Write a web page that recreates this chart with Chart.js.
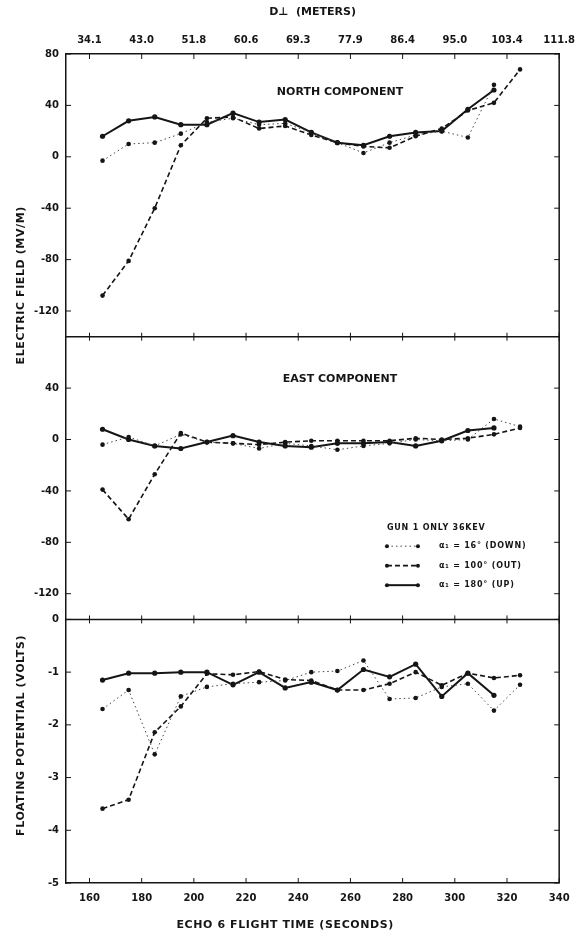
<!DOCTYPE html>
<html>
<head>
<meta charset="utf-8">
<title>Echo 6 – elektriskt fält och flytande potential</title>
<script src="https://cdn.jsdelivr.net/npm/chart.js@4.4.0/dist/chart.umd.min.js"></script>
<style>
    html, body { margin: 0; padding: 0; background: #fff; }
    #wrap { position: relative; width: 583px; height: 936px; }
</style>
</head>
<body>
<div id="wrap"><canvas id="echoChart"></canvas></div>
<script>
"use strict";

// Flygtid (sekunder) för varje mätpunkt
const flightTime = [165, 175, 185, 195, 205, 215, 225, 235, 245, 255, 265, 275, 285, 295, 305, 315, 325];

// Tickar på tidsaxeln + motsvarande avstånd D⊥ på övre axeln
const timeTicks = [160, 180, 200, 220, 240, 260, 280, 300, 320, 340];
const distanceLabels = ["34.1", "43.0", "51.8", "60.6", "69.3", "77.9", "86.4", "95.0", "103.4", "111.8"];

// Nordlig komponent (mV/m)
const northDown = [-3, 10, 11, 18, 27, 30, 25, 26, 19, 11, 3, 11, 17, 20, 15, 56, null];
const northOut = [-108, -81, -40, 9, 30, 31, 22, 24, 17, 11, 8, 7, 16, 22, 36, 42, 68];
const northUp = [16, 28, 31, 25, 25, 34, 27, 29, 19, 11, 9, 16, 19, 20, 37, 52, null];

// Östlig komponent (mV/m)
const eastDown = [-4, 2, -5, 4, -2, -3, -7, -3, -5, -8, -5, -3, 0, -1, 0, 16, 10];
const eastOut = [-39, -62, -27, 5, -2, -3, -4, -2, -1, -1, -1, -1, 1, 0, 1, 4, 9];
const eastUp = [8, 0, -5, -7, -2, 3, -2, -5, -6, -3, -3, -2, -5, -1, 7, 9, null];

// Flytande potential (volt)
const floatDown = [-1.70, -1.34, -2.56, -1.46, -1.28, -1.22, -1.19, -1.16, -1.00, -0.98, -0.78, -1.51, -1.49, -1.28, -1.22, -1.73, -1.24];
const floatOut = [-3.59, -3.42, -2.14, -1.65, -1.03, -1.05, -0.99, -1.14, -1.16, -1.34, -1.34, -1.22, -1.00, -1.25, -1.02, -1.11, -1.06];
const floatUp = [-1.15, -1.02, -1.02, -1.00, -1.00, -1.24, -1.00, -1.30, -1.19, -1.34, -0.95, -1.09, -0.85, -1.46, -1.02, -1.44, null];

// Tickar för de tre panelerna
const northTicks = [-120, -80, -40, 0, 40, 80];
const eastTicks = [-120, -80, -40, 0, 40];
const floatTicks = [-5, -4, -3, -2, -1, 0];

const legendTitle = "GUN 1 ONLY 36KEV";
const legendLabels = ["α₁ = 16° (DOWN)", "α₁ = 100° (OUT)", "α₁ = 180° (UP)"];

const ink = '#151515';
const font = "'DejaVu Sans', sans-serif";
const tickFont = { family: font, size: 10, weight: 'bold' };
const titleFont = { family: font, size: 11, weight: 'bold' };

// Linjestilar: ner = prickad, ut = streckad, upp = heldragen
const lineStyles = [
    { borderColor: '#444', borderWidth: 1, borderDash: [1.5, 3], pointRadius: 2.3 },
    { borderColor: ink, borderWidth: 1.6, borderDash: [5, 3], pointRadius: 2.3 },
    { borderColor: ink, borderWidth: 2, borderDash: [], pointRadius: 2.6 }
];

function series(values, axisId, styleIndex) {
    const style = lineStyles[styleIndex];
    return {
        data: flightTime.map((t, i) => ({ x: t, y: values[i] })),
        yAxisID: axisId,
        borderColor: style.borderColor,
        borderWidth: style.borderWidth,
        borderDash: style.borderDash,
        pointRadius: style.pointRadius,
        pointBackgroundColor: ink,
        pointBorderWidth: 0,
        tension: 0,
        spanGaps: false,
        fill: false
    };
}

function panelAxis(min, max, ticks, weight) {
    return {
        type: 'linear',
        position: 'left',
        stack: 'panels',
        stackWeight: weight,
        min: min,
        max: max,
        afterBuildTicks: (axis) => { axis.ticks = ticks.map(v => ({ value: v })); },
        afterFit: (axis) => { axis.width = 66; },
        grid: { display: false, drawTicks: false },
        border: { display: true, color: ink, width: 1.5 },
        ticks: { font: tickFont, color: ink, padding: 7 }
    };
}

// Rita en roterad y-titel centrerad på ett givet värde
function verticalTitle(ctx, text, y) {
    ctx.save();
    ctx.translate(21, y);
    ctx.rotate(-Math.PI / 2);
    ctx.fillText(text, 0, 0);
    ctx.restore();
}

// Ram, separatorer, inåtriktade tickar, titlar och förklaring
const framePlugin = {
    id: 'frame',
    afterDraw(chart) {
        const { ctx, chartArea, scales } = chart;
        const x = scales.x, yN = scales.yN, yE = scales.yE, yF = scales.yF;
        const seps = [yN.getPixelForValue(-140), yE.getPixelForValue(-140)];

        ctx.save();
        ctx.strokeStyle = ink;
        ctx.fillStyle = ink;
        ctx.lineWidth = 1.5;

        // högerkant + separatorer
        ctx.beginPath();
        ctx.moveTo(chartArea.right, chartArea.top);
        ctx.lineTo(chartArea.right, chartArea.bottom);
        seps.forEach(y => { ctx.moveTo(chartArea.left, y); ctx.lineTo(chartArea.right, y); });
        ctx.stroke();

        // tickar på x
        ctx.lineWidth = 1;
        ctx.beginPath();
        timeTicks.forEach(v => {
            const px = x.getPixelForValue(v);
            ctx.moveTo(px, chartArea.top); ctx.lineTo(px, chartArea.top + 5);
            ctx.moveTo(px, chartArea.bottom); ctx.lineTo(px, chartArea.bottom - 5);
            seps.forEach(y => { ctx.moveTo(px, y - 4); ctx.lineTo(px, y + 4); });
        });
        // tickar på y, vänster och höger
        [[yN, northTicks], [yE, eastTicks], [yF, floatTicks]].forEach(([axis, ticks]) => {
            ticks.forEach(v => {
                const py = axis.getPixelForValue(v);
                ctx.moveTo(chartArea.left, py); ctx.lineTo(chartArea.left + 5, py);
                ctx.moveTo(chartArea.right, py); ctx.lineTo(chartArea.right - 5, py);
            });
        });
        ctx.stroke();

        // paneltexter
        ctx.font = 'bold 11px ' + font;
        ctx.textAlign = 'center';
        ctx.textBaseline = 'middle';
        ctx.fillText('NORTH COMPONENT', x.getPixelForValue(256), yN.getPixelForValue(50));
        ctx.fillText('EAST COMPONENT', x.getPixelForValue(256), yE.getPixelForValue(47));

        // axeltitlar
        ctx.font = 'bold 11px ' + font;
        ctx.letterSpacing = '0.6px';
        verticalTitle(ctx, 'ELECTRIC FIELD (MV/M)', yN.getPixelForValue(-100));
        verticalTitle(ctx, 'FLOATING POTENTIAL (VOLTS)', yF.getPixelForValue(-2.2));
        ctx.fillText('ECHO 6 FLIGHT TIME (SECONDS)', x.getPixelForValue(235), 925);

        // förklaring
        const lx = x.getPixelForValue(274);
        const ly = yE.getPixelForValue(-69);
        ctx.font = 'bold 8px ' + font;
        ctx.letterSpacing = '0.8px';
        ctx.textAlign = 'left';
        ctx.fillText(legendTitle, lx, ly);
        legendLabels.forEach((label, i) => {
            const style = lineStyles[i];
            const rowY = ly + 18 + i * 19.5;
            ctx.save();
            ctx.strokeStyle = style.borderColor;
            ctx.lineWidth = style.borderWidth;
            ctx.setLineDash(style.borderDash);
            ctx.beginPath();
            ctx.moveTo(lx, rowY);
            ctx.lineTo(lx + 31, rowY);
            ctx.stroke();
            ctx.restore();
            [lx, lx + 31].forEach(px => {
                ctx.beginPath();
                ctx.arc(px, rowY, 2, 0, Math.PI * 2);
                ctx.fill();
            });
            ctx.fillText(label, lx + 52, rowY);
        });
        ctx.restore();
    }
};

const ctx = document.getElementById('echoChart');

new Chart(ctx, {
    type: 'line',
    data: {
        datasets: [
            series(floatDown, 'yF', 0),
            series(floatOut, 'yF', 1),
            series(floatUp, 'yF', 2),
            series(eastDown, 'yE', 0),
            series(eastOut, 'yE', 1),
            series(eastUp, 'yE', 2),
            series(northDown, 'yN', 0),
            series(northOut, 'yN', 1),
            series(northUp, 'yN', 2)
        ]
    },
    options: {
        responsive: true,
        maintainAspectRatio: false,
        animation: false,
        devicePixelRatio: 1,
        layout: { padding: { top: 0, left: 0, right: 23, bottom: 0 } },
        plugins: {
            legend: { display: false },
            tooltip: { enabled: false }
        },
        scales: {
            x: {
                type: 'linear',
                position: 'bottom',
                min: 151,
                max: 340,
                afterBuildTicks: (axis) => { axis.ticks = timeTicks.map(v => ({ value: v })); },
                afterFit: (axis) => { axis.height = 53; },
                grid: { display: false, drawTicks: false },
                border: { display: true, color: ink, width: 1.5 },
                ticks: { font: tickFont, color: ink, padding: 9, maxRotation: 0, autoSkip: false }
            },
            x2: {
                type: 'linear',
                position: 'top',
                min: 151,
                max: 340,
                afterBuildTicks: (axis) => { axis.ticks = timeTicks.map(v => ({ value: v })); },
                afterFit: (axis) => { axis.height = 54; },
                grid: { display: false, drawTicks: false },
                border: { display: true, color: ink, width: 1.5 },
                ticks: {
                    font: tickFont, color: ink, padding: 8, maxRotation: 0, autoSkip: false,
                    callback: (value) => distanceLabels[timeTicks.indexOf(value)]
                },
                title: { display: true, text: 'D⊥  (METERS)', font: titleFont, color: ink, padding: { top: 6 } }
            },
            yF: panelAxis(-5, 0, floatTicks, 262),
            yE: panelAxis(-140, 80, eastTicks, 281),
            yN: panelAxis(-140, 80, northTicks, 281)
        }
    },
    plugins: [framePlugin]
});
</script>
</body>
</html>
